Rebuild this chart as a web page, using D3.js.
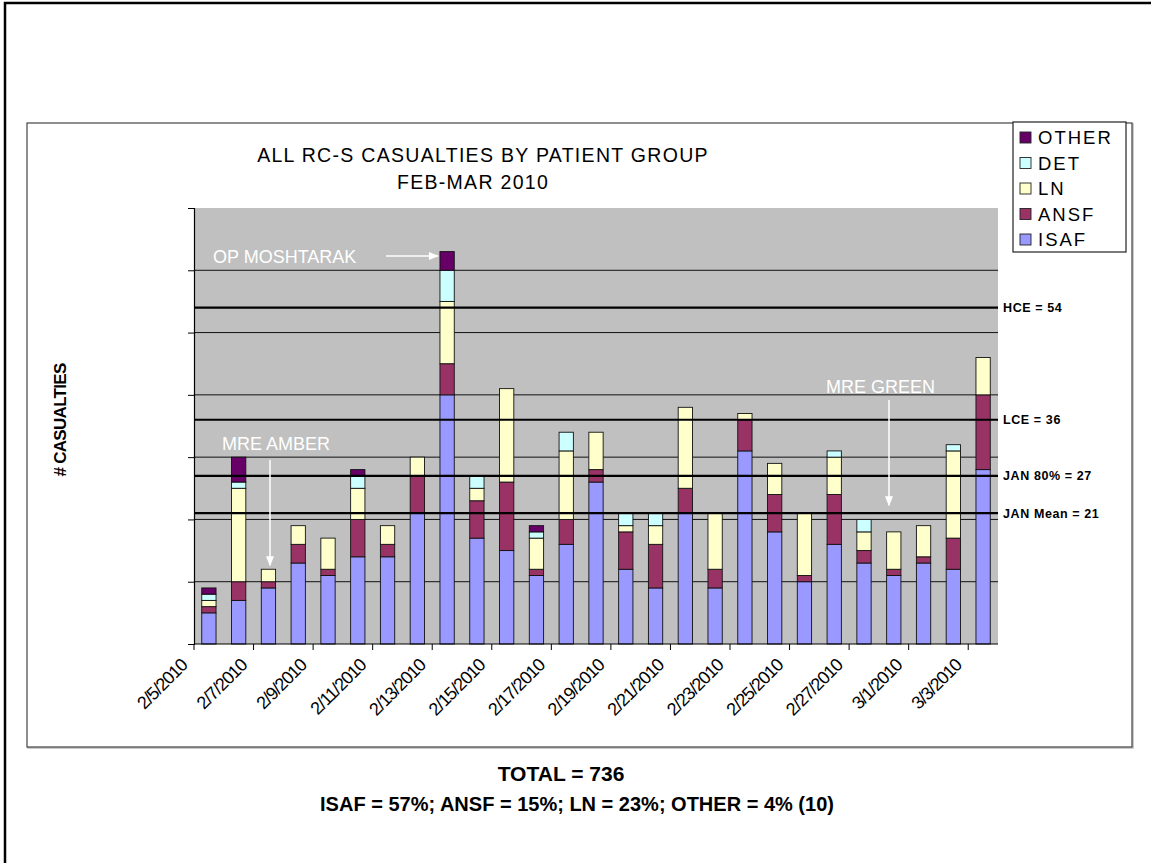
<!DOCTYPE html>
<html>
<head>
<meta charset="utf-8">
<script src="https://cdn.jsdelivr.net/npm/d3@7"></script>
<style>
  html, body { margin: 0; padding: 0; background: #fff; }
  svg { display: block; font-family: "Liberation Sans", Arial, sans-serif; }
</style>
</head>
<body>
<script>
// categories: one bar per day
const dates = ['2/5/2010','2/6/2010','2/7/2010','2/8/2010','2/9/2010','2/10/2010','2/11/2010',
  '2/12/2010','2/13/2010','2/14/2010','2/15/2010','2/16/2010','2/17/2010','2/18/2010',
  '2/19/2010','2/20/2010','2/21/2010','2/22/2010','2/23/2010','2/24/2010','2/25/2010',
  '2/26/2010','2/27/2010','2/28/2010','3/1/2010','3/2/2010','3/3/2010'];
// only every second day gets a label
const tickLabels = ['2/5/2010','2/7/2010','2/9/2010','2/11/2010','2/13/2010','2/15/2010','2/17/2010',
  '2/19/2010','2/21/2010','2/23/2010','2/25/2010','2/27/2010','3/1/2010','3/3/2010'];

// series (casualties per day)
const isaf  = [5,7,9,13,11,14,14,21,40,17,15,11,16,26,12,9,21,9,31,18,10,16,13,11,13,12,28];
const ansf  = [1,3,1,3,1,6,2,6,5,6,11,1,4,2,6,7,4,3,5,6,1,8,2,1,1,5,12];
const ln    = [1,15,2,3,5,5,3,3,10,2,15,5,11,6,1,3,13,9,1,5,10,6,3,6,5,14,6];
const det   = [1,1,0,0,0,2,0,0,5,2,0,1,3,0,2,2,0,0,0,0,0,1,2,0,0,1,0];
const other = [1,4,0,0,0,1,0,0,3,0,0,1,0,0,0,0,0,0,0,0,0,0,0,0,0,0,0];

const keys = ['ISAF','ANSF','LN','DET','OTHER'];
const colors = {ISAF:'#9999FF', ANSF:'#993366', LN:'#FFFFCC', DET:'#CCFFFF', OTHER:'#660066'};

// reference lines
const refNames  = ['HCE = 54','LCE = 36','JAN 80% = 27','JAN Mean = 21'];
const refValues = [54, 36, 27, 21];

const W = 1151, H = 863;
const plot = {left: 194, right: 998, top: 208, bottom: 644};

const svg = d3.select('body').append('svg').attr('width', W).attr('height', H);

// outer frame (only top & left visible)
svg.append('path').attr('d', `M5,${H} V3 H${W}`)
  .attr('fill', 'none').attr('stroke', '#000').attr('stroke-width', 2.5);

// chart box
svg.append('rect').attr('x', 28).attr('y', 124).attr('width', 1105).attr('height', 624)
  .attr('fill', 'none').attr('stroke', '#bbb').attr('stroke-width', 1.5);
svg.append('rect').attr('x', 27).attr('y', 123).attr('width', 1105).attr('height', 624)
  .attr('fill', '#fff').attr('stroke', '#444').attr('stroke-width', 1.2);

const table = dates.map((d, i) => ({date: d, ISAF: isaf[i], ANSF: ansf[i], LN: ln[i], DET: det[i], OTHER: other[i]}));
const stacked = d3.stack().keys(keys)(table);

const x = d3.scaleBand().domain(dates).range([plot.left, plot.right]).paddingInner(0.52).paddingOuter(0.26);
const y = d3.scaleLinear().domain([0, 70]).range([plot.bottom, plot.top]);

// plot background
svg.append('rect').attr('x', plot.left).attr('y', plot.top)
  .attr('width', plot.right - plot.left).attr('height', plot.bottom - plot.top)
  .attr('fill', '#C0C0C0');

// gridlines
svg.append('g').selectAll('line').data(y.ticks(7).filter(v => v > 0 && v < 70)).join('line')
  .attr('x1', plot.left).attr('x2', plot.right)
  .attr('y1', d => y(d)).attr('y2', d => y(d))
  .attr('stroke', '#111').attr('stroke-width', 1);

// y axis: ticks, no labels
svg.append('g').attr('transform', `translate(${plot.left},0)`)
  .call(d3.axisLeft(y).ticks(7).tickSize(6).tickFormat(''))
  .call(g => g.select('.domain').attr('stroke', '#000').attr('stroke-width', 1.2));

// bars
svg.append('g').selectAll('g').data(stacked).join('g')
  .attr('fill', d => colors[d.key])
  .selectAll('rect').data(d => d.filter(s => s[1] > s[0])).join('rect')
  .attr('x', d => x(d.data.date))
  .attr('width', x.bandwidth())
  .attr('y', d => y(d[1]))
  .attr('height', d => y(d[0]) - y(d[1]))
  .attr('stroke', '#111').attr('stroke-width', 0.9);

// x axis: ticks every second boundary
const xb = d3.scaleLinear().domain([0, dates.length]).range([plot.left, plot.right]);
const xAxis = svg.append('g');
xAxis.append('line').attr('x1', plot.left).attr('x2', plot.right)
  .attr('y1', plot.bottom).attr('y2', plot.bottom).attr('stroke', '#000').attr('stroke-width', 1.2);
xAxis.selectAll('line.tk').data(tickLabels).join('line').attr('class', 'tk')
  .attr('x1', d => xb(dates.indexOf(d))).attr('x2', d => xb(dates.indexOf(d)))
  .attr('y1', plot.bottom).attr('y2', plot.bottom + 6)
  .attr('stroke', '#000');
xAxis.selectAll('text').data(tickLabels).join('text')
  .attr('transform', d => `translate(${xb(dates.indexOf(d)) - 10},${plot.bottom + 18}) rotate(-45)`)
  .attr('text-anchor', 'end').attr('dy', '0.35em')
  .attr('font-size', 18).attr('letter-spacing', -1)
  .text(d => d);

// reference lines (over bars)
svg.append('g').selectAll('line').data(refValues).join('line')
  .attr('x1', plot.left).attr('x2', plot.right)
  .attr('y1', d => y(d)).attr('y2', d => y(d))
  .attr('stroke', '#000').attr('stroke-width', 2.2);
svg.append('g').selectAll('text').data(refValues).join('text')
  .attr('x', plot.right + 5).attr('y', d => y(d)).attr('dy', '0.35em')
  .attr('font-size', 12.5).attr('font-weight', 'bold').attr('letter-spacing', 0.6)
  .text((d, i) => refNames[i]);

// title
svg.append('text').attr('x', 483).attr('y', 162).attr('text-anchor', 'middle')
  .attr('font-size', 19.5).attr('letter-spacing', 1.3).text('ALL RC-S CASUALTIES BY PATIENT GROUP');
svg.append('text').attr('x', 473).attr('y', 189).attr('text-anchor', 'middle')
  .attr('font-size', 19.5).attr('letter-spacing', 1.3).text('FEB-MAR 2010');

// y label
svg.append('text').attr('transform', 'translate(66,420) rotate(-90)').attr('text-anchor', 'middle')
  .attr('font-size', 17).attr('font-weight', 'bold').attr('letter-spacing', -0.7).text('# CASUALTIES');

// legend
const leg = svg.append('g');
leg.append('rect').attr('x', 1013).attr('y', 122).attr('width', 113).attr('height', 130)
  .attr('fill', '#fff').attr('stroke', '#222').attr('stroke-width', 1.2);
const legKeys = keys.slice().reverse();
leg.selectAll('rect.sw').data(legKeys).join('rect').attr('class', 'sw')
  .attr('x', 1020).attr('y', (d, i) => 132 + i * 25.5).attr('width', 11).attr('height', 11)
  .attr('fill', d => colors[d]).attr('stroke', '#222').attr('stroke-width', 0.9);
leg.selectAll('text').data(legKeys).join('text')
  .attr('x', 1038).attr('y', (d, i) => 138 + i * 25.5).attr('dy', '0.35em')
  .attr('font-size', 18.5).attr('letter-spacing', 2).text(d => d);

// annotations
const defs = svg.append('defs');
defs.append('marker').attr('id', 'arr').attr('viewBox', '0 0 10 10')
  .attr('refX', 9).attr('refY', 5)
  .attr('orient', 'auto-start-reverse').attr('markerUnits', 'userSpaceOnUse')
  .attr('markerWidth', 12).attr('markerHeight', 10)
  .append('path').attr('d', 'M0,1 L10,5 L0,9 Z').attr('fill', '#fff');

function note(label, tx, ty, x1, y1, x2, y2) {
  svg.append('text').attr('x', tx).attr('y', ty).attr('fill', '#fff')
    .attr('font-size', 18).text(label);
  svg.append('line').attr('x1', x1).attr('y1', y1).attr('x2', x2).attr('y2', y2)
    .attr('stroke', '#fff').attr('stroke-width', 1.5).attr('marker-end', 'url(#arr)');
}
note('OP MOSHTARAK', 213, 263, 386, 256, x('2/13/2010') - 2, 256);
note('MRE AMBER', 222, 450, 270, 460, 270, y(isaf[2] + ansf[2] + ln[2]) - 4);
note('MRE GREEN', 826, 393, 889, 400, 889, y(21) - 8);

// totals
svg.append('text').attr('x', 561).attr('y', 781).attr('text-anchor', 'middle')
  .attr('font-size', 21).attr('font-weight', 'bold').text('TOTAL = 736');
svg.append('text').attr('x', 577).attr('y', 811).attr('text-anchor', 'middle')
  .attr('font-size', 20).attr('font-weight', 'bold').text('ISAF = 57%; ANSF = 15%; LN = 23%; OTHER = 4% (10)');
</script>
</body>
</html>
